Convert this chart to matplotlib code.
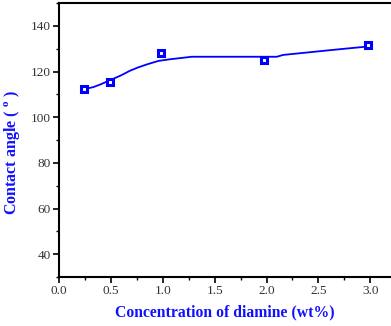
import matplotlib
matplotlib.use("Agg")
import matplotlib.pyplot as plt
from matplotlib.ticker import MultipleLocator

plt.rcParams['font.family'] = ['Liberation Serif', 'DejaVu Serif']
plt.rcParams['mathtext.fontset'] = 'custom'
plt.rcParams['mathtext.rm'] = 'Liberation Serif'
plt.rcParams['mathtext.bf'] = 'Liberation Serif:bold'

conc = [0.24, 0.49, 0.98, 1.98, 2.98]
angle = [112.4, 115.4, 128.2, 125.0, 131.5]

fit_x = [0.24, 0.33, 0.40, 0.49, 0.60, 0.68, 0.76, 0.85, 0.96, 1.07, 1.28, 2.10, 2.16, 2.40, 2.55, 2.75, 2.98]
fit_y = [112.3, 113.2, 114.4, 116.2, 118.4, 120.3, 121.8, 123.2, 124.7, 125.4, 126.5, 126.5, 127.3, 128.4, 129.1, 130.0, 131.0]

xticks = [0.0, 0.5, 1.0, 1.5, 2.0, 2.5, 3.0]
yticks = [40, 60, 80, 100, 120, 140]

fig = plt.figure(figsize=(3.91, 3.26), dpi=100)
ax = fig.add_axes([0.151, 0.150, 0.849, 0.8405])

ax.plot(fit_x, fit_y, color='#0000ff', lw=1.3, zorder=2)
ax.plot(conc, angle, linestyle='none', marker='s', markersize=5,
        markerfacecolor='white', markeredgecolor='#0000ff', markeredgewidth=2.2, zorder=3)

ax.set_xlim(0, 3.2)
ax.set_ylim(30, 150)
ax.set_xticks(xticks)
ax.set_xticklabels([f"{v:.1f}" for v in xticks])
ax.set_yticks(yticks)
ax.set_yticklabels([str(v) for v in yticks])
ax.xaxis.set_minor_locator(MultipleLocator(0.25))
ax.yaxis.set_minor_locator(MultipleLocator(10))

ax.spines['right'].set_visible(False)
for s in ['left', 'bottom', 'top']:
    ax.spines[s].set_linewidth(1.5)
ax.tick_params(which='major', direction='out', length=4, width=1.2, labelsize=9.5,
               labelcolor='#333333', pad=2)
ax.tick_params(which='minor', direction='out', length=2.5, width=1.0)
ax.tick_params(top=False, right=False)

ax.set_xlabel('Concentration of diamine (wt%)', fontsize=11.3, fontweight='bold',
              color='#1010ff', labelpad=5)
ax.set_ylabel(r'Contact angle ( $^{\mathbf{o}}$ )', fontsize=11.5, fontweight='bold',
              color='#1010ff')
ax.yaxis.set_label_coords(-0.112, 0.456)

fig.savefig('out.png', dpi=100)
